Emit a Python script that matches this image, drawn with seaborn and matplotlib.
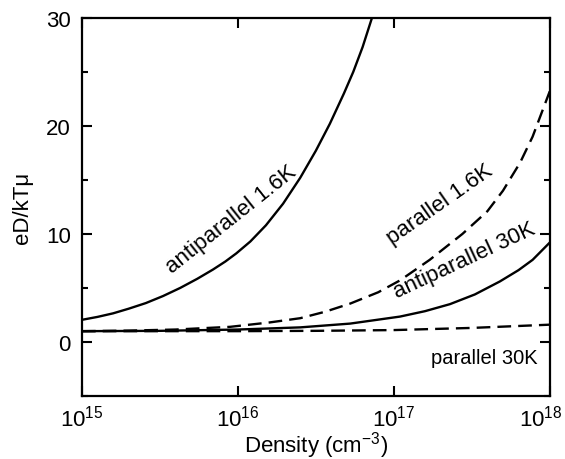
import matplotlib
matplotlib.use("Agg")
import matplotlib.pyplot as plt
import matplotlib.transforms as mtransforms
from matplotlib.ticker import MultipleLocator, NullLocator
import numpy as np
import pandas as pd
import seaborn as sns

# log10 of density (cm^-3) and eD/kTmu
ap16_logn = [15.0, 15.1, 15.2, 15.3, 15.41, 15.52, 15.63, 15.74, 15.84, 15.92,
             15.99, 16.08, 16.18, 16.29, 16.40, 16.50, 16.59, 16.68, 16.74,
             16.80, 16.86, 16.9]
ap16_val = [2.05, 2.32, 2.65, 3.08, 3.6, 4.25, 5.0, 5.85, 6.7, 7.45,
            8.2, 9.3, 10.8, 12.8, 15.2, 17.7, 20.2, 23.0, 25.0,
            27.3, 30.0, 31.8]

p16_logn = [15.0, 15.3, 15.6, 15.95, 16.2, 16.4, 16.56, 16.72, 16.9, 17.04,
            17.23, 17.44, 17.6, 17.7, 17.81, 17.89, 18.0]
p16_val = [1.0, 1.05, 1.15, 1.4, 1.8, 2.2, 2.8, 3.55, 4.6, 5.7,
           7.6, 10.0, 12.1, 14.0, 16.6, 19.0, 23.2]

ap30_logn = [15.0, 15.5, 16.0, 16.4, 16.72, 17.04, 17.2, 17.36, 17.52, 17.68,
             17.8, 17.89, 18.0]
ap30_val = [1.0, 1.03, 1.15, 1.35, 1.7, 2.35, 2.85, 3.5, 4.4, 5.6,
            6.65, 7.6, 9.2]

p30_logn = [15.0, 16.0, 16.5, 17.0, 17.5, 17.75, 18.0]
p30_val = [1.0, 1.0, 1.03, 1.1, 1.3, 1.45, 1.6]

x_ticks = [1e15, 1e16, 1e17, 1e18]
x_ticklabels = ["10$^{15}$", "10$^{16}$", "10$^{17}$", "10$^{18}$"]

# label text, position (log density, value), angle and size
labels = ["antiparallel 1.6K", "parallel 1.6K", "antiparallel 30K", "parallel 30K"]
label_logn = [15.955, 17.295, 17.45, 17.58]
label_val = [11.4, 12.8, 7.6, -1.4]
label_rot = [38.5, 35, 25, 0]
label_size = [16, 16, 16, 14.5]

sns.set_theme(style="ticks")
plt.rcParams["font.family"] = ["Liberation Sans", "DejaVu Sans"]
plt.rcParams["mathtext.fontset"] = "custom"
plt.rcParams["mathtext.rm"] = "Liberation Sans"
plt.rcParams["mathtext.it"] = "Liberation Sans:italic"
plt.rcParams["mathtext.default"] = "regular"
plt.rcParams["text.color"] = "black"
plt.rcParams["axes.labelcolor"] = "black"

fig = plt.figure(figsize=(5.65, 4.6), dpi=100)
ax = fig.add_axes([0.145, 0.137, 0.828, 0.822])

curves = [
    (ap16_logn, ap16_val, "-"),
    (p16_logn, p16_val, "--"),
    (ap30_logn, ap30_val, "-"),
    (p30_logn, p30_val, "--"),
]
for logn, val, ls in curves:
    df = pd.DataFrame({"density": 10.0 ** np.array(logn), "value": val})
    sns.lineplot(data=df, x="density", y="value", color="black", linewidth=1.7, ax=ax)
    line = ax.lines[-1]
    if ls == "--":
        line.set_linestyle((0, (5.8, 3.0)))

for txt, ln, v, r, fs in zip(labels, label_logn, label_val, label_rot, label_size):
    ax.text(10.0 ** ln, v, txt, rotation=r, rotation_mode="anchor",
            ha="center", va="center", fontsize=fs, color="black")

ax.set_xscale("log")
ax.set_xlim(1e15, 1e18)
ax.set_ylim(-5, 30)
ax.set_xticks(x_ticks, labels=x_ticklabels)
ax.xaxis.set_minor_locator(NullLocator())
ax.yaxis.set_major_locator(MultipleLocator(10))
ax.yaxis.set_minor_locator(MultipleLocator(5))

ax.tick_params(which="both", direction="in", top=True, right=True,
               width=1.5, labelsize=16, colors="black")
ax.tick_params(which="major", length=7)
ax.tick_params(axis="x", which="major", pad=6)
ax.tick_params(axis="y", which="major", pad=8)
ax.tick_params(which="minor", length=4)
for sp in ax.spines.values():
    sp.set_linewidth(1.6)
    sp.set_color("black")

ax.set_xlabel("Density (cm$^{-3}$)", fontsize=16, labelpad=-1)
ax.set_ylabel("eD/kTμ", fontsize=16, labelpad=9)

# keep the last decade label inside the figure, as in the reference
last = ax.xaxis.get_major_ticks()[-1].label1
shift = mtransforms.ScaledTranslation(-9 / 100, 0, fig.dpi_scale_trans)
last.set_transform(last.get_transform() + shift)

fig.savefig("out.png", dpi=100)
